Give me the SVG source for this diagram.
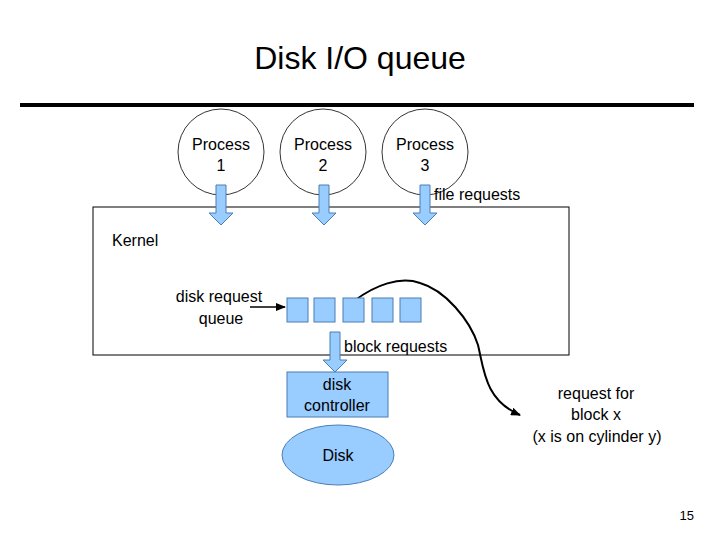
<svg xmlns="http://www.w3.org/2000/svg" width="720" height="540" viewBox="0 0 720 540">
<defs>
<style>
text{font-family:"Liberation Sans",Arial,sans-serif;font-size:16px;fill:#000}
.b{fill:#99ccff;stroke:#4a7fb5;stroke-width:1}
.c{fill:#fff;stroke:#000;stroke-width:0.8}
</style>
<marker id="ah" markerWidth="10" markerHeight="8" refX="9" refY="4" orient="auto" markerUnits="userSpaceOnUse"><path d="M0,0 L10,4 L0,8 z" fill="#000"/></marker>
<path id="barrow" d="M-5,0 H5 V28 H12 L0,40 L-12,28 H-5 Z"/>
</defs>
<rect width="720" height="540" fill="#fff"/>
<text x="360" y="69" text-anchor="middle" style="font-size:32px">Disk I/O queue</text>
<line x1="20" y1="105" x2="694" y2="105" stroke="#000" stroke-width="4"/>
<g id="kernel"><rect x="93" y="207" width="476" height="148" fill="none" stroke="#000" stroke-width="1"/>
<text x="112" y="246">Kernel</text></g>
<g id="p1"><circle class="c" cx="221" cy="152" r="43"/><text x="221" y="150" text-anchor="middle">Process</text><text x="221" y="171" text-anchor="middle">1</text></g>
<g id="p2"><circle class="c" cx="323" cy="152" r="43"/><text x="323" y="150" text-anchor="middle">Process</text><text x="323" y="171" text-anchor="middle">2</text></g>
<g id="p3"><circle class="c" cx="425" cy="152" r="43"/><text x="425" y="150" text-anchor="middle">Process</text><text x="425" y="171" text-anchor="middle">3</text></g>
<g id="connectors">
<use href="#barrow" class="b" transform="translate(221,185)"/>
<use href="#barrow" class="b" transform="translate(324,185)"/>
<use href="#barrow" class="b" transform="translate(425,185)"/>
<use href="#barrow" class="b" transform="translate(335,332)"/>
<line x1="250" y1="307" x2="285" y2="307" stroke="#000" stroke-width="1.5" marker-end="url(#ah)"/>
<path d="M354,301 C375,285 400,276 420,283 C445,290 470,320 478,345 C484,370 485,400 520,415" fill="none" stroke="#000" stroke-width="2" marker-end="url(#ah)"/>
</g>
<text x="434" y="200">file requests</text>
<text x="344" y="352">block requests</text>
<g id="queue">
<text x="219" y="302" text-anchor="middle">disk request</text><text x="221" y="324" text-anchor="middle">queue</text>
<rect class="b" x="287" y="298" width="21" height="24"/>
<rect class="b" x="314" y="298" width="21" height="24"/>
<rect class="b" x="343" y="298" width="21" height="24"/>
<rect class="b" x="372" y="298" width="21" height="24"/>
<rect class="b" x="400" y="298" width="21" height="24"/>
</g>
<g id="controller"><rect class="b" x="287" y="372" width="101" height="45"/>
<text x="337" y="390" text-anchor="middle">disk</text><text x="337" y="411" text-anchor="middle">controller</text></g>
<g id="disk"><ellipse class="b" cx="338" cy="455" rx="56" ry="30"/><text x="338" y="461" text-anchor="middle">Disk</text></g>
<g id="note"><text x="596" y="399" text-anchor="middle">request for</text><text x="596" y="420" text-anchor="middle">block x</text><text x="597" y="442" text-anchor="middle">(x is on cylinder y)</text></g>
<text x="694" y="520" text-anchor="end" style="font-size:13px">15</text>
</svg>
